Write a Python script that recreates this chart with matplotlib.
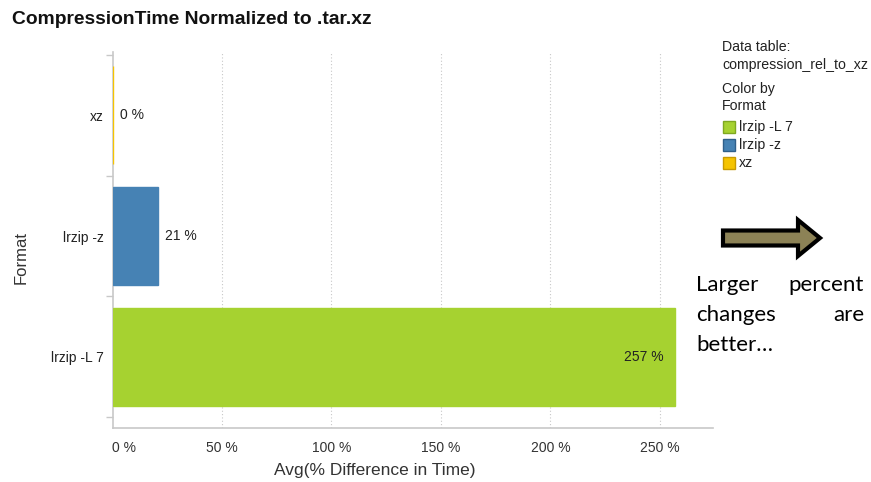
import matplotlib
matplotlib.use("Agg")
import matplotlib.pyplot as plt
from matplotlib.patches import FancyArrow, Rectangle
from matplotlib.ticker import FixedLocator

# Data
formats = ["xz", "lrzip -z", "lrzip -L 7"]
pct_diff = [0.4, 21, 257]
bar_colors = ["#F5C400", "#4682B4", "#A6D230"]
legend_labels = ["lrzip -L 7", "lrzip -z", "xz"]
legend_colors = ["#A6D230", "#4682B4", "#F5C400"]
legend_edges = ["#7FA820", "#2F5F8A", "#C89A00"]
x_ticks = [0, 50, 100, 150, 200, 250]

plt.rcParams["font.family"] = ["Liberation Sans", "DejaVu Sans"]

W, H = 871, 482
fig = plt.figure(figsize=(W / 100, H / 100), dpi=100)
fig.patch.set_facecolor("white")


def fy(py):
    return 1 - py / H


# axes rectangle in pixels
left, right, top, bottom = 112.5, 712.5, 52, 428
ax = fig.add_axes([left / W, 1 - bottom / H, (right - left) / W, (bottom - top) / H])

ypos = list(range(len(formats)))
ax.barh(ypos, pct_diff, height=0.81, color=bar_colors, edgecolor=bar_colors,
        linewidth=1.0, zorder=3)

ax.set_xlim(0, 274)
ax.set_ylim(2.59, -0.525)

ax.set_xticks(x_ticks)
ax.set_xticklabels([f"{t} %" for t in x_ticks])
ax.tick_params(axis="x", length=0, pad=9, labelsize=10, colors="#333333")
ax.get_xticklabels()[0].set_horizontalalignment("left")

ax.set_yticks(ypos)
ax.set_yticklabels(formats)
ax.tick_params(axis="y", which="major", length=0, pad=6, labelsize=10, colors="#222222")
ax.yaxis.set_minor_locator(FixedLocator([-0.5, 0.5, 1.5, 2.5]))
ax.tick_params(axis="y", which="minor", length=5, width=1, color="#C8C8C8")

for x in x_ticks[1:]:
    ax.axvline(x, color="#C8C8C8", lw=0.8, ls=(0, (1, 2)), zorder=1)

for s in ["top", "right"]:
    ax.spines[s].set_visible(False)
for s in ["left", "bottom"]:
    ax.spines[s].set_color("#C8C8C8")
    ax.spines[s].set_linewidth(1.2)
    ax.spines[s].set_zorder(2)

# axis titles
fig.text(375 / W, fy(470), "Avg(% Difference in Time)", fontsize=12.5, color="#333333",
         ha="center", va="center")
fig.text(21 / W, fy(258), "Format", fontsize=12, color="#333333", rotation=90,
         ha="center", va="center")

# value labels
for y, v in zip(ypos, pct_diff):
    txt = f"{v:.0f} %"
    if v > 200:
        ax.text(v - 5.5, y, txt, va="center", ha="right", fontsize=10, color="#222222", zorder=4)
    else:
        ax.text(v + 3, y, txt, va="center", ha="left", fontsize=10, color="#222222", zorder=4)

# title
fig.text(12 / W, fy(20), "CompressionTime Normalized to .tar.xz", fontsize=13.9,
         fontweight="bold", ha="left", va="center", color="#111111")

# legend panel
lx = 722 / W
legend_font = dict(fontsize=10.2, va="center", color="#222222")
fig.text(lx, fy(47), "Data table:", **legend_font)
fig.text(lx, fy(65), "compression_rel_to_xz", **legend_font)
fig.text(lx, fy(89), "Color by", **legend_font)
fig.text(lx, fy(106), "Format", **legend_font)
for i, (lab, c, ec) in enumerate(zip(legend_labels, legend_colors, legend_edges)):
    cy = 127 + i * 18
    fig.patches.append(Rectangle((723 / W, 1 - (cy + 6) / H), 12 / W, 12 / H,
                                 facecolor=c, edgecolor=ec, lw=1,
                                 transform=fig.transFigure, figure=fig))
    fig.text(739 / W, fy(cy), lab, **legend_font)

# block arrow
arrow = FancyArrow(723 / W, fy(238), 97 / W, 0, width=15 / H, head_width=36 / H,
                   head_length=22 / W, length_includes_head=True,
                   facecolor="#8C8256", edgecolor="black", lw=3,
                   transform=fig.transFigure)
fig.patches.append(arrow)

# justified note text
note_font = dict(family=["Lato", "DejaVu Sans"], fontsize=16, color="black", va="center")
fig.text(696 / W, fy(285), "Larger", ha="left", **note_font)
fig.text(864 / W, fy(285), "percent", ha="right", **note_font)
fig.text(696 / W, fy(315), "changes", ha="left", **note_font)
fig.text(864 / W, fy(315), "are", ha="right", **note_font)
fig.text(696 / W, fy(345), "better\u2026", ha="left", **note_font)

fig.savefig("out.png", dpi=100)
